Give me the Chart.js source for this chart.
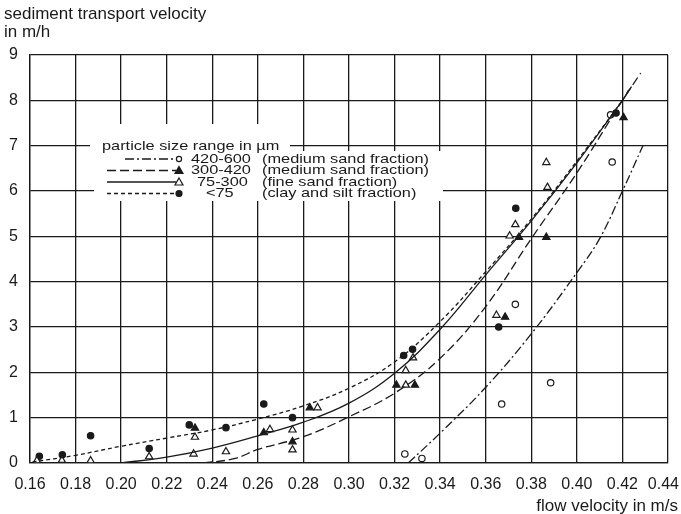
<!DOCTYPE html>
<html>
<head>
<meta charset="utf-8">
<script src="https://cdn.jsdelivr.net/npm/chart.js@4.4.0/dist/chart.umd.min.js"></script>
<style>
  html, body { margin: 0; padding: 0; background: #fff; }
</style>
</head>
<body>
<canvas id="chart" width="681" height="514"></canvas>
<script>
// tick values
const xTicks = [0.16, 0.18, 0.20, 0.22, 0.24, 0.26, 0.28, 0.30, 0.32, 0.34, 0.36, 0.38, 0.40, 0.42, 0.44];
const yTicks = [0, 1, 2, 3, 4, 5, 6, 7, 8, 9];

// fitted curves
const fit420X = [0.326, 0.34, 0.36, 0.38, 0.40, 0.41, 0.42, 0.429];
const fit420Y = [0, 0.66, 1.67, 2.85, 4.2, 4.95, 6.0, 7.0];
const fit300X = [0.236, 0.25, 0.26, 0.28, 0.30, 0.32, 0.34, 0.36, 0.38, 0.40, 0.42, 0.428];
const fit300Y = [0, 0.1, 0.3, 0.58, 1.02, 1.54, 2.31, 3.45, 4.95, 6.4, 8.0, 8.6];
const fit75X = [0.20, 0.22, 0.24, 0.26, 0.28, 0.30, 0.32, 0.34, 0.36, 0.38, 0.40, 0.42, 0.424];
const fit75Y = [0, 0.13, 0.33, 0.6, 0.9, 1.32, 1.98, 2.95, 4.15, 5.34, 6.62, 8.0, 8.3];
const fitClayX = [0.161, 0.18, 0.20, 0.22, 0.24, 0.26, 0.28, 0.30, 0.32, 0.34, 0.36, 0.38, 0.40, 0.42, 0.423];
const fitClayY = [0.02, 0.17, 0.37, 0.55, 0.73, 0.97, 1.26, 1.65, 2.23, 3.12, 4.22, 5.38, 6.66, 8.0, 8.25];

// measured points
const pts420X = [0.3245, 0.332, 0.367, 0.373, 0.3885, 0.4155, 0.4148];
const pts420Y = [0.2, 0.1, 1.3, 3.5, 1.77, 6.64, 7.68];
const pts300X = [0.2324, 0.2626, 0.2752, 0.2828, 0.3208, 0.3289, 0.3685, 0.3746, 0.3866, 0.4205];
const pts300Y = [0.77, 0.67, 0.47, 1.22, 1.72, 1.72, 3.22, 4.98, 4.98, 7.62];
const pts75X = [0.163, 0.174, 0.1866, 0.2123, 0.2324, 0.2318, 0.246, 0.2653, 0.2752, 0.2752, 0.2862,
                0.3249, 0.3249, 0.3281, 0.3647, 0.3705, 0.373, 0.3871, 0.3866];
const pts75Y = [0.05, 0.06, 0.05, 0.14, 0.57, 0.2, 0.25, 0.74, 0.73, 0.29, 1.22,
                1.72, 2.04, 2.32, 3.26, 5.01, 5.26, 6.08, 6.63];
const ptsClayX = [0.1641, 0.1742, 0.1866, 0.2123, 0.2299, 0.246, 0.2626, 0.2752, 0.324, 0.3279, 0.3657, 0.3732, 0.4172];
const ptsClayY = [0.15, 0.18, 0.6, 0.32, 0.84, 0.78, 1.3, 1.0, 2.37, 2.51, 3.0, 5.62, 7.72];

const legendRows = ["420-600", "300-420", "75-300", "<75"];
const legendNotes = ["(medium sand fraction)", "(medium sand fraction)", "(fine sand fraction)", "(clay and silt fraction)"];

const ink = "#1a1a1a";
const font = "'Liberation Sans', Arial, Helvetica, sans-serif";
const zip = (xs, ys) => xs.map((x, i) => ({ x: x, y: ys[i] }));

const dashDot = [9, 3, 2, 3];
const longDash = [9, 4];
const shortDash = [4, 3];

function curve(xs, ys, dash) {
  return {
    type: "line", data: zip(xs, ys), borderColor: ink, borderWidth: 1.3,
    borderDash: dash, pointRadius: 0, tension: 0.4, fill: false
  };
}
function marks(xs, ys, style, filled) {
  return {
    type: "scatter", data: zip(xs, ys), pointStyle: style,
    pointRadius: style === "triangle" ? 4.2 : 3.2, pointBorderWidth: 1.2,
    pointBorderColor: ink, pointBackgroundColor: filled ? ink : "#fff"
  };
}

// legend inside the plot, axis titles, last x label
const decor = {
  id: "decor",
  afterDatasetsDraw(chart) {
    const c = chart.ctx;
    c.save();
    c.fillStyle = "#fff";
    c.fillRect(90, 124, 200, 30);
    c.fillRect(94, 151, 349, 50);
    c.fillStyle = ink;
    c.strokeStyle = ink;
    c.textBaseline = "middle";

    const wide = (txt, x, y) => {
      c.save();
      c.translate(x, y);
      c.scale(1.21, 1);
      c.font = "13.5px " + font;
      c.fillText(txt, 0, 0);
      c.restore();
    };
    wide("particle size range in \u00b5m", 102, 146);

    const rowY = [159, 170.5, 182, 193.5];
    const starts = [125, 107, 107, 107];
    const dashes = [dashDot, longDash, [], shortDash];
    const numX = [191, 191, 197, 206];
    rowY.forEach((y, i) => {
      c.lineWidth = 1.3;
      c.setLineDash(dashes[i]);
      c.beginPath();
      c.moveTo(starts[i], y);
      c.lineTo(176, y);
      c.stroke();
      c.setLineDash([]);
      c.lineWidth = 1.2;
      c.beginPath();
      if (i === 0 || i === 3) {
        c.arc(179, y, i === 0 ? 2.6 : 3, 0, Math.PI * 2);
      } else {
        c.moveTo(179, y - 4);
        c.lineTo(183, y + 3);
        c.lineTo(175, y + 3);
        c.closePath();
      }
      if (i === 1 || i === 3) c.fill();
      c.stroke();
      wide(legendRows[i], numX[i], y);
      wide(legendNotes[i], 262, y);
    });

    c.font = "17px " + font;
    c.textAlign = "left";
    c.fillText("sediment transport velocity", 4, 14);
    c.fillText("in m/h", 4, 32);
    c.textAlign = "right";
    c.fillText("flow velocity in m/s", 678, 506);

    // last x tick label sits inside the canvas edge
    const xs = chart.scales.x;
    c.font = "16px " + font;
    c.fillText(xTicks[xTicks.length - 1].toFixed(2), 679, xs.top + 12 + 9.6);
    c.restore();
  }
};

new Chart(document.getElementById("chart"), {
  data: {
    datasets: [
      curve(fit420X, fit420Y, dashDot),
      curve(fit300X, fit300Y, longDash),
      curve(fit75X, fit75Y, []),
      curve(fitClayX, fitClayY, shortDash),
      marks(pts420X, pts420Y, "circle", false),
      marks(pts300X, pts300Y, "triangle", true),
      marks(pts75X, pts75Y, "triangle", false),
      marks(ptsClayX, ptsClayY, "circle", true)
    ]
  },
  options: {
    responsive: false,
    animation: false,
    layout: { padding: { top: 55, right: 13, left: 0, bottom: 0 } },
    plugins: { legend: { display: false }, tooltip: { enabled: false } },
    scales: {
      x: {
        type: "linear", min: 0.16, max: 0.44,
        afterBuildTicks: s => { s.ticks = xTicks.map(v => ({ value: v })); },
        afterFit: s => { s.height = 51; s.paddingLeft = 0; s.paddingRight = 0; },
        ticks: {
          autoSkip: false, maxRotation: 0, padding: 12, color: ink,
          font: { size: 16, family: font },
          callback: v => (v >= 0.439 ? "" : v.toFixed(2))
        },
        grid: { color: ink, lineWidth: 1.3, drawTicks: false },
        border: { color: ink, width: 1.3 }
      },
      y: {
        type: "linear", min: 0, max: 9,
        afterBuildTicks: s => { s.ticks = yTicks.map(v => ({ value: v })); },
        afterFit: s => { s.width = 30; s.paddingTop = 0; s.paddingBottom = 0; },
        ticks: { padding: 12, color: ink, font: { size: 16, family: font } },
        grid: { color: ink, lineWidth: 1.3, drawTicks: false },
        border: { color: ink, width: 1.3 }
      }
    }
  },
  plugins: [decor]
});
</script>
</body>
</html>
